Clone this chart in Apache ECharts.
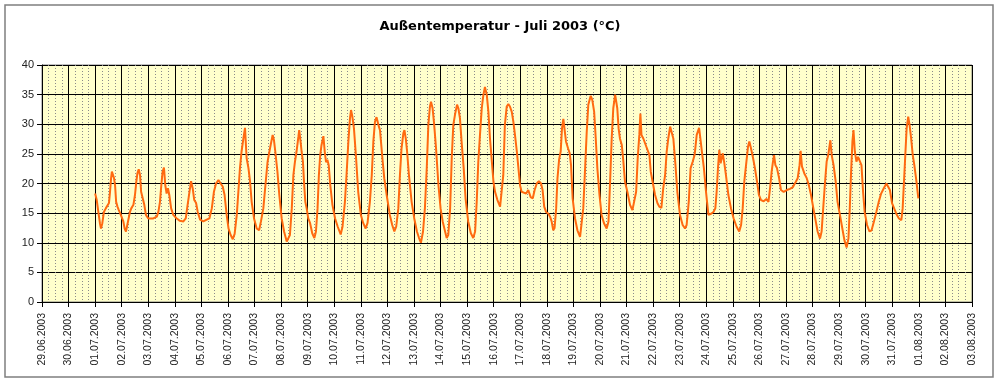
<!DOCTYPE html>
<html><head><meta charset="utf-8">
<script src="https://cdn.jsdelivr.net/npm/echarts@6/dist/echarts.min.js"></script>
<style>html,body{margin:0;padding:0;background:#fff}#c{width:1000px;height:382px}</style>
</head><body><div id="c"></div>
<script>
const chartTitle = 'Außentemperatur - Juli 2003 (°C)';
const xTickLabels = ['29.06.2003','30.06.2003','01.07.2003','02.07.2003','03.07.2003','04.07.2003','05.07.2003','06.07.2003','07.07.2003','08.07.2003','09.07.2003','10.07.2003','11.07.2003','12.07.2003','13.07.2003','14.07.2003','15.07.2003','16.07.2003','17.07.2003','18.07.2003','19.07.2003','20.07.2003','21.07.2003','22.07.2003','23.07.2003','24.07.2003','25.07.2003','26.07.2003','27.07.2003','28.07.2003','29.07.2003','30.07.2003','31.07.2003','01.08.2003','02.08.2003','03.08.2003'];
// measurement times: days since 01.07.2003 00:00
const dayOffsets = [
0.00,0.06,0.12,0.18,0.22,0.27,0.33,0.40,0.46,0.52,0.56,0.60,0.63,0.67,0.71,0.75,0.79,0.84,0.89,0.94,
1.00,1.06,1.11,1.16,1.21,1.26,1.31,1.36,1.44,1.50,1.55,1.59,1.64,1.69,1.73,1.79,1.85,1.91,
2.00,2.06,2.19,2.32,2.38,2.44,2.49,2.54,2.59,2.64,2.69,2.74,2.79,2.86,2.94,
3.07,3.19,3.32,3.41,3.48,3.55,3.61,3.67,3.73,3.80,3.86,3.95,
4.07,4.20,4.30,4.39,4.47,4.55,4.64,4.72,4.80,4.87,4.95,
5.02,5.10,5.18,5.25,5.33,5.39,5.45,5.51,5.58,5.64,5.70,5.77,5.83,5.89,5.98,
6.08,6.17,6.24,6.33,6.42,6.49,6.58,6.68,6.73,6.78,6.86,6.93,
7.02,7.11,7.21,7.27,7.33,7.40,7.46,7.52,7.58,7.65,7.68,7.73,7.77,7.82,7.86,7.91,7.96,
8.02,8.09,8.17,8.25,8.31,8.37,8.42,8.47,8.52,8.59,8.64,8.69,8.74,8.79,8.85,8.93,
9.03,9.13,9.24,9.31,9.40,9.46,9.53,9.59,9.63,9.68,9.74,9.82,9.90,
10.00,10.09,10.18,10.25,10.34,10.41,10.47,10.53,10.59,10.66,10.72,10.81,10.88,10.97,
11.09,11.18,11.26,11.33,11.41,11.47,11.53,11.60,11.64,11.69,11.74,11.81,11.91,
12.01,12.11,12.19,12.26,12.34,12.41,12.48,12.54,12.60,12.64,12.70,12.76,12.83,12.92,
13.00,13.08,13.17,13.23,13.29,13.36,13.42,13.48,13.55,13.62,13.67,13.73,13.79,13.87,13.94,
14.04,14.14,14.23,14.30,14.36,14.42,14.49,14.55,14.61,14.67,14.74,14.80,14.86,14.93,14.99,
15.05,15.14,15.24,15.30,15.36,15.42,15.49,15.55,15.61,15.68,15.74,15.80,15.87,15.93,15.99,
16.05,16.12,16.22,16.30,16.39,16.47,16.54,16.62,16.70,16.78,16.84,16.90,16.97,
17.06,17.12,17.18,17.24,17.29,17.35,17.40,17.46,17.52,17.57,17.62,17.67,17.72,17.80,17.86,17.91,17.97,
18.06,18.15,18.25,18.30,18.37,18.44,18.50,18.56,18.65,18.71,18.78,18.84,18.90,18.98,
19.06,19.15,19.25,19.32,19.38,19.44,19.50,19.57,19.60,19.65,19.70,19.75,19.82,19.88,19.94,
20.03,20.13,20.22,20.29,20.36,20.42,20.48,20.52,20.56,20.63,20.72,20.79,20.86,20.91,20.98,
21.07,21.16,21.23,21.31,21.38,21.45,21.51,21.57,21.64,21.70,21.76,21.84,21.91,
22.01,22.11,22.20,22.26,22.34,22.41,22.49,22.56,22.64,22.73,22.79,22.85,22.91,22.99,
23.08,23.18,23.27,23.34,23.39,23.44,23.49,23.54,23.62,23.68,23.74,23.83,23.93,
24.03,24.14,24.24,24.31,24.37,24.43,24.51,24.57,24.62,24.68,24.76,24.83,24.91,24.98,
25.06,25.16,25.26,25.34,25.40,25.46,25.51,25.55,25.60,25.66,25.74,25.81,25.91,
26.03,26.15,26.26,26.37,26.44,26.51,26.55,26.60,26.69,26.78,26.86,26.94,
27.03,27.12,27.19,27.28,27.34,27.40,27.47,27.53,27.59,27.67,27.72,27.79,27.87,27.94,
28.03,28.12,28.20,28.28,28.35,28.40,28.45,28.50,28.54,28.59,28.65,28.71,28.77,28.84,28.90,28.96,
29.05,29.14,29.22,29.31,29.40,29.49,29.58,29.68,29.78,29.85,29.91,29.99,
30.07,30.16,30.25,30.34,30.39,30.44,30.49,30.54,30.60,30.65,30.71,30.77,30.83,30.91,30.98
];
const temps = [
18.3,17.2,15.2,13.3,12.4,13.3,15.2,15.8,16.1,16.7,18.6,20.9,22.0,22.3,20.9,19.7,16.9,16.1,15.5,15.0,
14.7,13.6,12.4,11.9,13.0,14.1,15.2,15.8,16.4,18.1,20.3,21.7,22.4,21.4,18.6,17.5,16.4,14.7,
14.1,14.0,14.1,14.4,15.2,16.9,19.7,22.0,22.7,19.7,18.3,19.2,18.1,15.8,14.7,
14.1,13.7,13.6,14.1,16.4,18.6,20.4,19.2,17.2,16.7,15.2,13.9,
13.6,13.9,14.1,15.8,18.6,20.0,20.6,20.0,19.5,18.1,14.7,
12.4,11.3,10.6,11.5,14.7,18.6,22.6,25.4,27.6,29.4,24.3,22.6,20.3,16.9,14.1,
12.4,12.1,13.6,15.8,20.3,23.7,25.9,28.2,27.3,25.4,22.0,18.1,
14.1,11.9,10.2,9.9,11.3,15.8,21.4,23.7,25.4,27.9,29.0,27.1,25.4,23.7,20.3,16.9,15.8,
14.1,13.3,11.6,10.8,11.9,15.8,21.4,24.8,26.5,28.0,25.4,23.6,24.0,23.1,19.7,16.4,
14.1,12.7,11.4,12.7,16.9,21.4,27.1,31.0,32.4,31.3,29.3,24.3,18.6,
14.7,13.3,12.4,13.3,16.9,21.4,27.1,30.4,31.2,29.9,29.0,24.3,20.9,18.1,
14.7,13.0,11.9,12.7,15.8,21.4,25.9,28.5,29.0,27.6,25.4,21.4,16.9,
14.1,11.9,10.8,10.0,11.9,15.8,22.6,29.9,33.0,33.8,32.7,29.9,25.9,19.7,
15.8,13.6,11.9,10.8,11.3,15.8,24.3,29.9,31.8,33.3,32.7,31.0,27.1,22.6,17.5,
13.6,11.6,10.8,11.9,16.9,23.7,28.7,32.7,34.9,36.3,34.9,32.1,27.6,23.7,20.3,
18.6,17.2,16.1,15.8,21.4,29.9,33.0,33.4,33.0,32.1,30.4,28.2,25.4,22.6,19.7,
18.6,18.9,18.3,18.9,17.7,17.5,18.9,20.0,20.4,20.0,18.9,16.1,15.2,
14.9,14.4,13.6,12.1,12.5,15.8,20.9,24.0,25.4,29.3,30.9,29.0,27.1,25.9,25.1,23.1,17.5,
14.1,12.1,11.0,11.3,15.8,22.6,28.7,33.3,34.8,34.1,32.1,27.6,22.6,18.1,
14.7,13.3,12.4,13.6,20.3,27.6,32.7,35.0,35.2,32.7,29.3,27.6,26.5,23.7,20.3,
18.6,16.4,15.5,15.5,18.6,24.3,28.2,31.8,28.2,27.6,26.5,26.2,24.8,22.0,20.3,
18.1,16.7,16.1,15.9,19.2,21.4,25.4,27.6,29.6,29.9,27.6,23.1,18.6,
14.7,13.0,12.4,13.0,16.9,22.6,23.7,24.8,28.2,29.4,27.1,24.8,22.6,18.6,
14.7,14.9,15.2,15.8,18.6,22.6,25.7,23.4,25.1,23.4,21.4,18.1,15.8,
14.1,12.7,11.9,13.0,15.8,20.3,23.7,26.2,27.1,26.0,24.3,22.6,20.3,18.1,
17.2,17.0,17.4,16.9,19.2,22.0,23.7,24.8,23.1,22.6,20.9,18.9,18.6,
18.9,19.1,19.4,20.3,20.9,23.1,25.5,22.9,21.7,20.9,19.7,18.1,
15.8,13.6,11.9,10.7,11.9,15.8,20.3,23.7,24.8,27.3,24.8,23.1,20.3,16.9,
14.7,12.4,10.4,9.2,10.7,15.8,22.0,27.1,29.0,25.4,23.7,24.5,24.8,23.1,18.6,15.2,
13.0,11.9,12.1,13.6,15.2,16.9,18.3,19.2,20.0,20.2,18.9,16.7,
15.8,14.8,14.1,13.8,15.8,20.3,24.8,29.3,31.3,29.9,27.6,24.8,23.1,20.3,17.5
];
const firstTickOffset = 2; // 29.06 is two days before 01.07

const seriesData = dayOffsets.map((d, i) => [d + firstTickOffset, temps[i]]);

const chart = echarts.init(document.getElementById('c'), null, {renderer: 'canvas'});
chart.setOption({
  animation: false,
  backgroundColor: '#ffffff',
  title: {
    text: chartTitle, left: 'center', top: 15,
    textStyle: {fontFamily: 'DejaVu Sans, sans-serif', fontSize: 13, fontWeight: 'bold', color: '#000'}
  },
  graphic: [{
    type: 'rect', z: -10, silent: true,
    shape: {x: 5, y: 5, width: 988, height: 372},
    style: {fill: 'none', stroke: '#7f7f7f', lineWidth: 1.5}
  }],
  grid: {
    left: 42, right: 28, top: 65, bottom: 80,
    show: true, backgroundColor: '#FFFFCC', borderColor: '#808080', borderWidth: 1
  },
  xAxis: {
    type: 'value', min: 0, max: xTickLabels.length - 1, interval: 1,
    axisLine: {show: true, onZero: false, lineStyle: {color: '#000', width: 1}},
    axisTick: {show: true, length: 5, lineStyle: {color: '#000'}},
    axisLabel: {
      rotate: 90, margin: 11, fontSize: 10.5, color: '#222',
      fontFamily: 'Liberation Sans, Arial, sans-serif',
      formatter: v => xTickLabels[Math.round(v)] || ''
    },
    splitLine: {show: true, lineStyle: {color: '#000', width: 1}},
    minorTick: {show: false, splitNumber: 4},
    minorSplitLine: {show: true, lineStyle: {color: '#8a8a8a', width: 1, type: [1, 2]}}
  },
  yAxis: {
    type: 'value', min: 0, max: 40, interval: 5,
    axisLine: {show: true, lineStyle: {color: '#000', width: 1}},
    axisTick: {show: true, length: 5, lineStyle: {color: '#000'}},
    axisLabel: {fontSize: 11, color: '#222', margin: 8, fontFamily: 'Liberation Sans, Arial, sans-serif'},
    splitLine: {show: true, lineStyle: {color: '#000', width: 1}}
  },
  series: [{
    type: 'line', data: seriesData, showSymbol: false, symbol: 'none',
    lineStyle: {color: '#FF6A10', width: 2},
    z: 5
  }]
});
</script>
</body></html>
